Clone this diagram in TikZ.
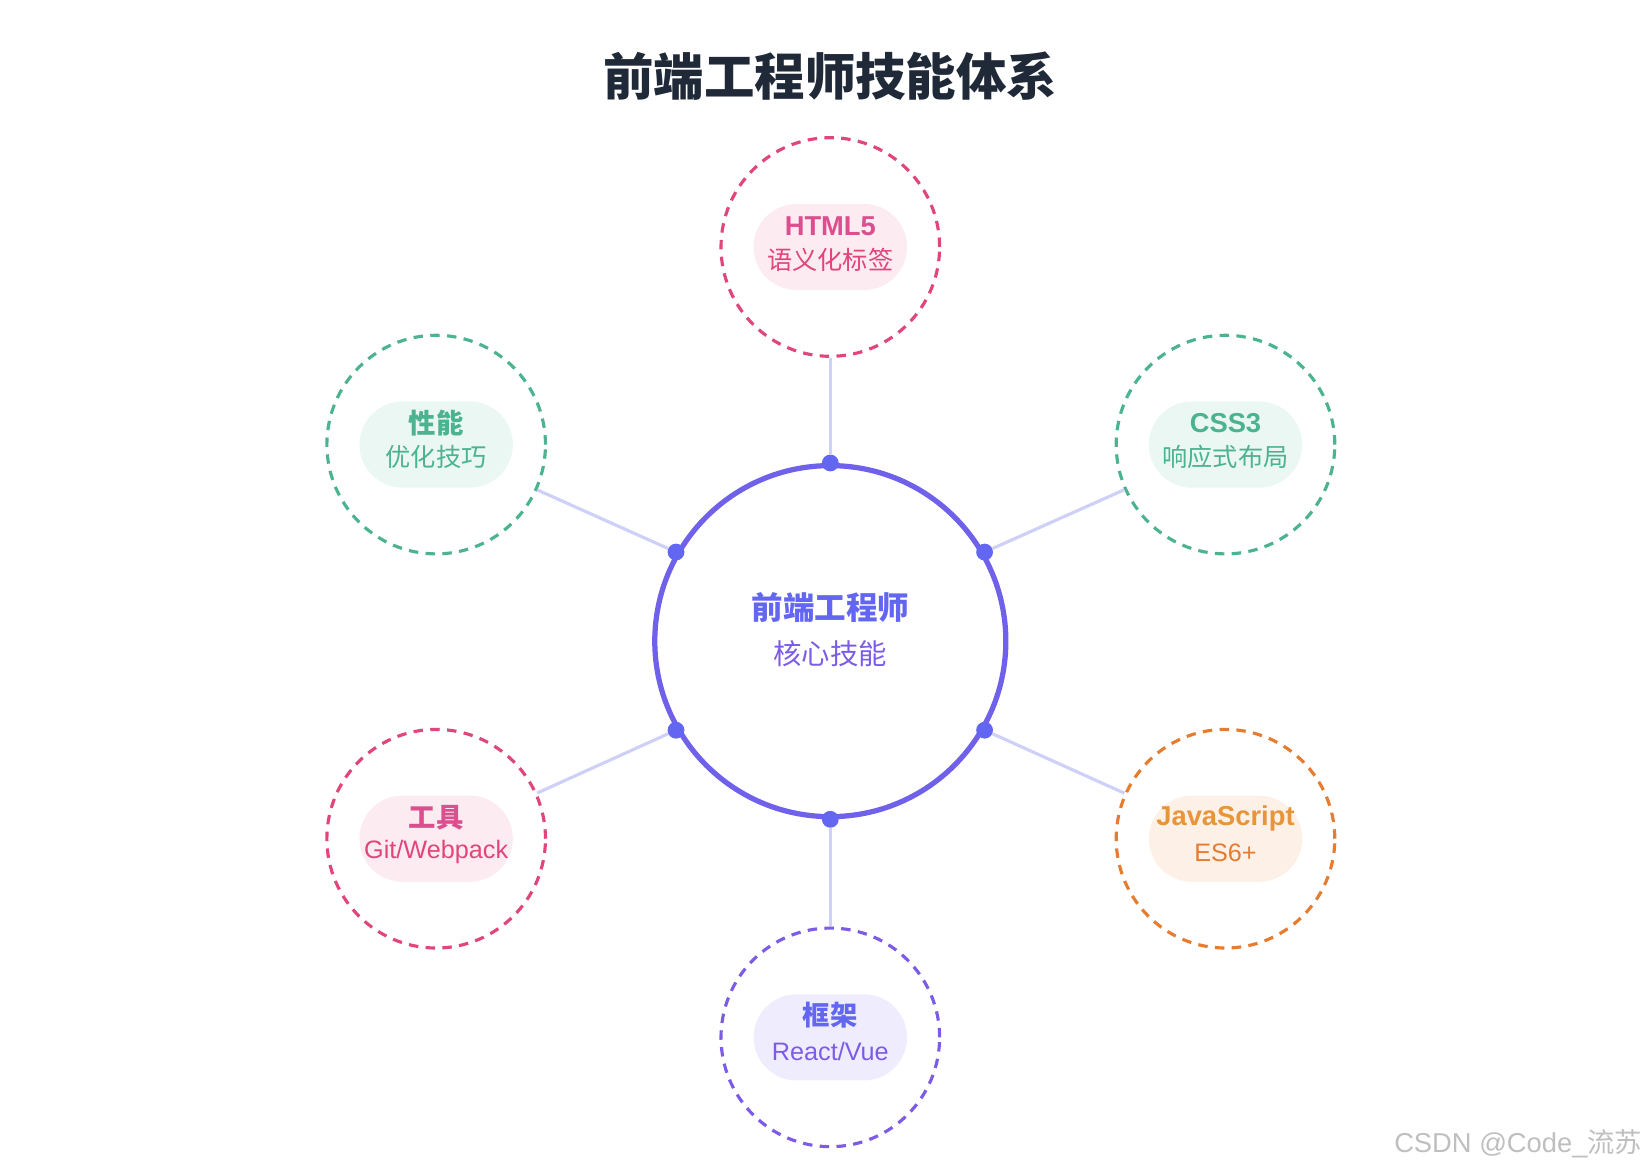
\documentclass[tikz,border=0pt]{standalone}
\usepackage{fontspec}
\setmainfont{Liberation Sans}
\newfontfamily\cjk{Noto Sans CJK SC}
\usetikzlibrary{positioning}
\definecolor{ink}{HTML}{1F2937}
\definecolor{indigo}{HTML}{6366F1}
\definecolor{violet}{HTML}{7C5CE6}
\definecolor{linkc}{HTML}{CFD0F7}
\definecolor{rose}{HTML}{E0457B}
\definecolor{roseT}{HTML}{DB4F8F}
\definecolor{roseF}{HTML}{FCEBF1}
\definecolor{mint}{HTML}{4CB391}
\definecolor{mintF}{HTML}{EBF7F2}
\definecolor{amber}{HTML}{E8953A}
\definecolor{amberS}{HTML}{E57C30}
\definecolor{amberF}{HTML}{FDF1E7}
\definecolor{lilacF}{HTML}{EFEDFD}
\tikzset{
  ring/.style={circle,draw=#1,line width=3pt,dash pattern=on 9pt off 7pt,minimum size=208pt,inner sep=0pt},
  pill/.style={rounded corners=41pt,fill=#1,minimum width=146pt,minimum height=82pt},
  link/.style={linkc,line width=3pt},
  dot/.style={circle,fill=indigo,minimum size=16pt,inner sep=0pt},
  head/.style={font=\bfseries\fontsize{26}{30}\selectfont},
  sub/.style={font=\fontsize{24}{28}\selectfont}
}
\begin{document}
\begin{tikzpicture}[x=1pt,y=-1pt]
\useasboundingbox (0,0) rectangle (1568,1114);
\node[text=ink,font=\cjk\bfseries\fontsize{48}{56}\selectfont] (title) at (790,72) {前端工程师技能体系};

% Kern
\node[circle,draw=indigo!50!violet,line width=5pt,minimum size=334pt,inner sep=0pt] (core) at (790,610) {};
\node[text=indigo,font=\cjk\bfseries\fontsize{30}{34}\selectfont] (coreA) at (790,578) {前端工程师};
\node[text=violet,font=\cjk\fontsize{27}{30}\selectfont] (coreB) at (790,622) {核心技能};

% Andockpunkte
\node[dot] (pN) at (core.90) {};
\node[dot] (pS) at (core.270) {};
\node[dot] (pNE) at (core.30) {};
\node[dot] (pSE) at (core.-30) {};
\node[dot] (pNW) at (core.150) {};
\node[dot] (pSW) at (core.210) {};

% Satelliten
\node[ring=rose] (html) at (790,235) {};
\node[ring=mint] (css) at (1166,423) {};
\node[ring=amberS] (js) at (1166,798) {};
\node[ring=violet] (fw) at (790,987) {};
\node[ring=rose] (tool) at (415,798) {};
\node[ring=mint] (perf) at (415,423) {};

\node[pill=roseF] (htmlP) at (html) {};
\node[pill=mintF] (cssP) at (css) {};
\node[pill=amberF] (jsP) at (js) {};
\node[pill=lilacF] (fwP) at (fw) {};
\node[pill=roseF] (toolP) at (tool) {};
\node[pill=mintF] (perfP) at (perf) {};

\node[head,text=roseT] (htmlA) at (790,215) {HTML5};
\node[sub,text=rose,font=\cjk\fontsize{24}{28}\selectfont] (htmlB) at (790,247) {语义化标签};
\node[head,text=mint] (cssA) at (1166,403) {CSS3};
\node[sub,text=mint,font=\cjk\fontsize{24}{28}\selectfont] (cssB) at (1166,435) {响应式布局};
\node[head,text=amber] (jsA) at (1166,779) {JavaScript};
\node[sub,text=amberS] (jsB) at (1166,811) {ES6+};
\node[head,text=indigo,font=\cjk\bfseries\fontsize{26}{30}\selectfont] (fwA) at (790,966) {框架};
\node[sub,text=violet] (fwB) at (790,1000) {React/Vue};
\node[head,text=roseT,font=\cjk\bfseries\fontsize{26}{30}\selectfont] (toolA) at (415,778) {工具};
\node[sub,text=rose] (toolB) at (415,811) {Git/Webpack};
\node[head,text=mint,font=\cjk\bfseries\fontsize{26}{30}\selectfont] (perfA) at (415,403) {性能};
\node[sub,text=mint,font=\cjk\fontsize{24}{28}\selectfont] (perfB) at (415,435) {优化技巧};

% Verbindungen
\draw[link] (pN) -- (html);
\draw[link] (pS) -- (fw);
\draw[link] (pNE) -- (css);
\draw[link] (pSE) -- (js);
\draw[link] (pNW) -- (perf);
\draw[link] (pSW) -- (tool);

\node[text=black!25,font=\fontsize{26}{30}\selectfont,anchor=east] (mark) at (1566,1088) {CSDN @Code\_{\cjk 流苏}};
\end{tikzpicture}
\end{document}
